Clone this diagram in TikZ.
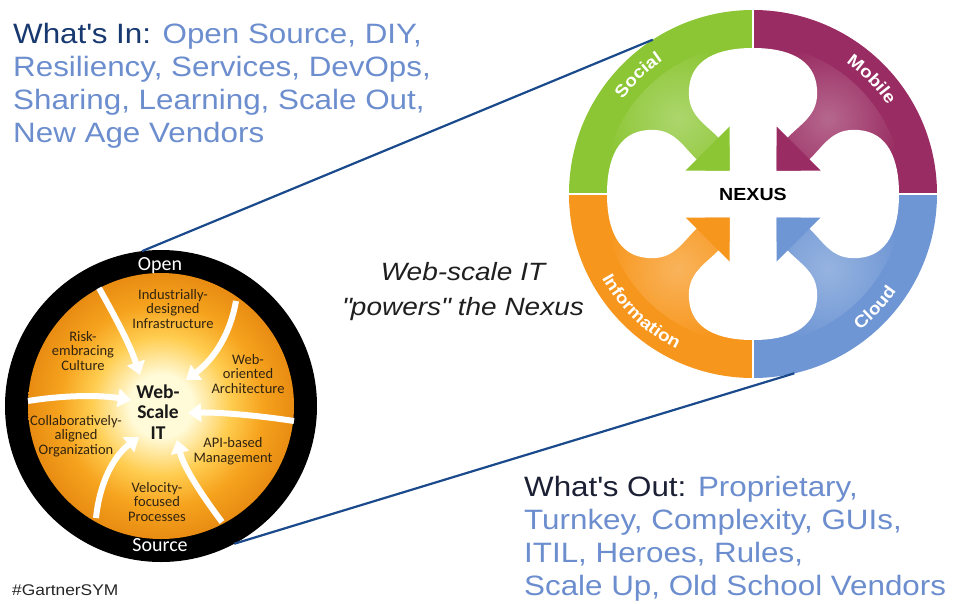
\documentclass[tikz,border=0pt]{standalone}
\usepackage{fontspec}
\setmainfont{Liberation Sans}[FakeStretch=1.12]
\newfontfamily\calibrifont{Carlito}
\usetikzlibrary{arrows.meta,decorations.text}

\definecolor{inhead}{RGB}{24,56,112}
\definecolor{outhead}{RGB}{28,32,52}
\definecolor{itemblue}{RGB}{108,142,206}
\definecolor{linkblue}{RGB}{26,74,140}
\definecolor{socialgreen}{RGB}{140,198,52}
\definecolor{mobilepurple}{RGB}{153,44,98}
\definecolor{infoorange}{RGB}{247,150,28}
\definecolor{cloudblue}{RGB}{110,150,212}
\definecolor{wslight}{RGB}{255,250,215}
\definecolor{wsmid}{RGB}{255,205,80}
\definecolor{wsorange}{RGB}{246,163,30}
\definecolor{wsdark}{RGB}{232,140,18}
\definecolor{wstext}{RGB}{50,36,16}

\pgfdeclareradialshading{wsglow}{\pgfpoint{0bp}{0bp}}{color(0bp)=(wslight); color(6bp)=(wslight); color(13bp)=(wsmid); color(19bp)=(wsorange); color(25bp)=(wsdark); color(50bp)=(wsdark)}

\newcommand\ringfont{\fontsize{17}{17}\selectfont\bfseries}

\tikzset{
  link/.style={draw=linkblue, line width=2.2pt},
  wsarrow/.style={draw=white, line width=6pt, -{Triangle[width=18pt,length=13pt]}},
  wslabel/.style={font=\calibrifont\fontsize{14.5}{14.5}\selectfont, text=wstext, align=center, inner sep=0pt},
  ringlabel/.style={decorate, decoration={text along path, text={|\ringfont|#1}, text align=center, text color=white}},
  bigtext/.style={font=\fontsize{28}{33}\selectfont, align=left, inner sep=0pt, anchor=north west}
}

\begin{document}
\begin{tikzpicture}[x=1pt,y=1pt]
  \useasboundingbox (0,0) rectangle (954,-603);
  \fill[white] (0,0) rectangle (954,-603);

  \node[bigtext, text=itemblue] (whatsin) at (13,-23) {\textcolor{inhead}{What\textquotesingle s In:} Open Source, DIY,\\Resiliency, Services, DevOps,\\Sharing, Learning, Scale Out,\\New Age Vendors};
  \node[bigtext, text=itemblue] (whatsout) at (524,-476) {\textcolor{outhead}{What\textquotesingle s Out:} Proprietary,\\Turnkey, Complexity, GUIs,\\ITIL, Heroes, Rules,\\Scale Up, Old School Vendors};
  \node[font=\fontsize{25}{35}\selectfont\itshape, align=center, text=black!88] (powers) at (463,-292) {Web-scale IT\\\textquotedbl powers\textquotedbl{} the Nexus};
  \node[anchor=west, inner sep=0pt, font=\fontsize{15.5}{15.5}\selectfont, text=black!85] (tag) at (12,-590) {\#GartnerSYM};

  \node[circle, fill=black, minimum size=312pt, inner sep=0pt, outer sep=0pt] (webscale) at (161,-406) {};
  \shade[shading=wsglow] (webscale.center) circle (133);
  \draw[wsarrow] (99,-288) .. controls (118,-322) and (130,-345) .. (140,-375);
  \draw[wsarrow] (236,-301) .. controls (229,-340) and (210,-362) .. (186,-380);
  \draw[wsarrow] (294,-421) .. controls (255,-415) and (215,-412) .. (188,-413);
  \draw[wsarrow] (222,-522) .. controls (198,-490) and (183,-465) .. (177,-440);
  \draw[wsarrow] (96,-518) .. controls (100,-480) and (115,-455) .. (139,-437);
  \draw[wsarrow] (28,-401) .. controls (65,-395) and (100,-395) .. (131,-400);
  \node[wslabel] (industrial) at (173,-309) {Industrially-\\designed\\Infrastructure};
  \node[wslabel] (risk) at (83,-351) {Risk-\\embracing\\Culture};
  \node[wslabel] (weboriented) at (248,-374) {Web-\\oriented\\Architecture};
  \node[wslabel] (collab) at (76,-436) {Collaboratively-\\aligned\\Organization};
  \node[wslabel] (apibased) at (233,-451) {API-based\\Management};
  \node[wslabel] (velocity) at (157,-502) {Velocity-\\focused\\Processes};
  \node[wslabel, font=\calibrifont\bfseries\fontsize{19.5}{20.5}\selectfont, text=black!90] (wscore) at (158,-412) {Web-\\Scale\\IT};
  \node[font=\calibrifont\fontsize{20}{20}\selectfont, text=white] (open) at (160,-266) {Open};
  \node[font=\calibrifont\fontsize{20}{20}\selectfont, text=white] (source) at (160,-545) {Source};

  \node[circle, minimum size=368pt, inner sep=0pt, outer sep=0pt] (nexus) at (753,-194) {};
  \begin{scope}[shift={(nexus.center)}]
    \foreach \a/\c in {0/socialgreen, -90/mobilepurple, 180/cloudblue, 90/infoorange}{
      \fill[\c, rotate=\a] (0,0) -- (90:184) arc[start angle=90, end angle=180, radius=184] -- cycle;
      \shade[inner color=\c!72!white, outer color=\c, rotate=\a] (0,0) -- (90:150) arc[start angle=90, end angle=180, radius=150] -- cycle;
    }
    \foreach \a in {0,90,180,270}
      \fill[white, rotate=\a] (34,56) .. controls (50,72) and (66,80) .. (64,105) .. controls (62,135) and (35,146) .. (0,146)
        .. controls (-35,146) and (-62,135) .. (-64,105) .. controls (-66,80) and (-50,72) .. (-34,56) -- (0,30) -- cycle;
    \fill[white] (-23.5,-100) rectangle (23.5,100) (-100,-23.5) rectangle (100,23.5);
    \foreach \a/\c in {0/socialgreen, -90/mobilepurple, 180/cloudblue, 90/infoorange}
      \fill[\c, rotate=\a] (-23.5,23.5) -- (-67.5,23.5) -- (-23.5,67.5) -- cycle;
    \draw[white, line width=2.5pt] (0,-185) -- (0,185) (-185,0) -- (185,0);
    \path[ringlabel=Social] (150:161) arc[start angle=150, end angle=118, radius=161];
    \path[ringlabel=Mobile] (60:161) arc[start angle=60, end angle=28, radius=161];
    \path[ringlabel=Information] (205:173) arc[start angle=205, end angle=248, radius=173];
    \path[ringlabel=Cloud] (-57:173) arc[start angle=-57, end angle=-29, radius=173];
  \end{scope}
  \node[font=\fontsize{17.5}{17.5}\selectfont\bfseries] (nexuslabel) at (nexus.center) {NEXUS};

  \path[link] (webscale.97) -- (nexus.123);
  \path[link] (webscale.-62) -- (nexus.-77);
\end{tikzpicture}
\end{document}
